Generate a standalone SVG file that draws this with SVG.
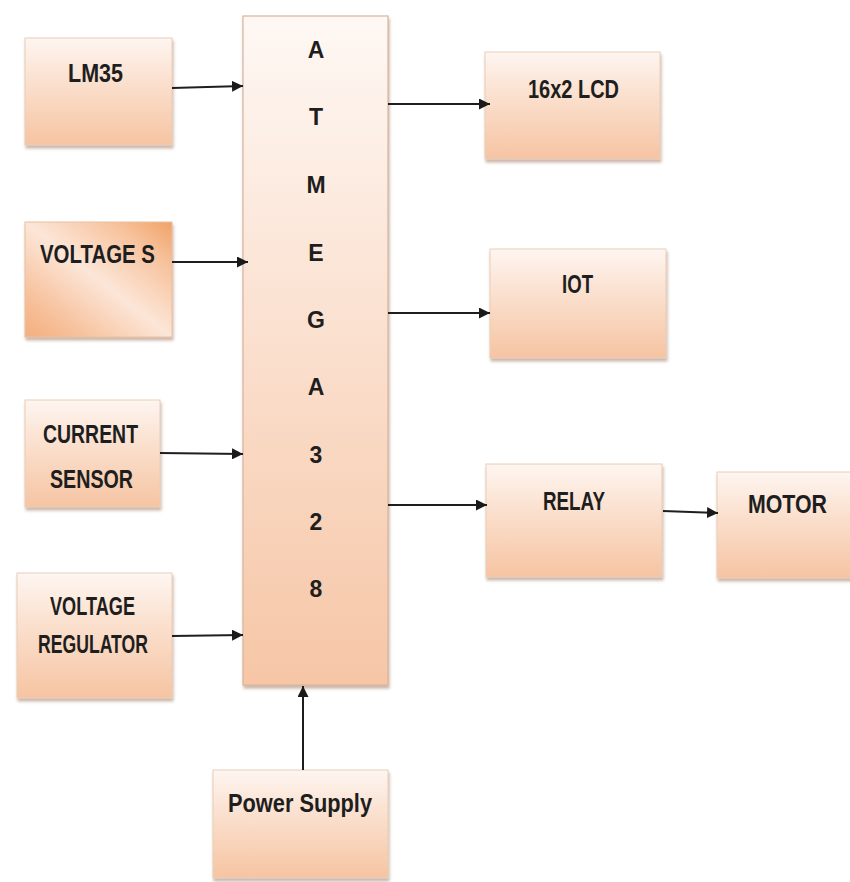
<svg xmlns="http://www.w3.org/2000/svg" width="850" height="882" viewBox="0 0 850 882">
<defs>
<linearGradient id="gBox" x1="0" y1="0" x2="0" y2="1">
<stop offset="0" stop-color="#fef6f1"/>
<stop offset="0.35" stop-color="#fbe3d3"/>
<stop offset="1" stop-color="#f6c4a2"/>
</linearGradient>
<linearGradient id="gMain" x1="0" y1="0" x2="0" y2="1">
<stop offset="0" stop-color="#fef8f4"/>
<stop offset="0.4" stop-color="#fbe4d5"/>
<stop offset="1" stop-color="#f6c6a6"/>
</linearGradient>
<linearGradient id="gVS" x1="1" y1="0" x2="0" y2="1">
<stop offset="0" stop-color="#f0a266"/>
<stop offset="0.2" stop-color="#f7c29c"/>
<stop offset="0.5" stop-color="#fce6d8"/>
<stop offset="0.8" stop-color="#f7c29d"/>
<stop offset="1" stop-color="#f3ae7e"/>
</linearGradient>
<filter id="sh" x="-10%" y="-10%" width="125%" height="130%">
<feDropShadow dx="1" dy="3" stdDeviation="1.5" flood-color="#8c5a3c" flood-opacity="0.45"/>
</filter>
<marker id="ah" viewBox="0 0 10 10" refX="10" refY="5" markerWidth="11" markerHeight="11" markerUnits="userSpaceOnUse" orient="auto">
<path d="M0,0 L10,5 L0,10 Z" fill="#1a1a1a"/>
</marker>
</defs>
<style>
.box{fill:url(#gBox);stroke:#e9cdb9;stroke-width:1;filter:url(#sh)}
.main{fill:url(#gMain);stroke:#d9b49c;stroke-width:1.2;filter:url(#sh)}
.t{font-family:"Liberation Sans",Arial,sans-serif;font-weight:bold;font-size:25px;fill:#1e1e1e}
.l{font-family:"Liberation Sans",Arial,sans-serif;font-weight:bold;font-size:23px;fill:#1e1e1e;text-anchor:middle}
.c{stroke:#1e1e1e;stroke-width:2;fill:none;marker-end:url(#ah)}
</style>
<rect width="850" height="882" fill="#ffffff"/>

<g id="atmega">
<rect class="main" x="243" y="16" width="145" height="669"/>
<text class="l" x="316" y="58">A</text>
<text class="l" x="316" y="125">T</text>
<text class="l" x="316" y="193">M</text>
<text class="l" x="316" y="261">E</text>
<text class="l" x="316" y="328">G</text>
<text class="l" x="316" y="395">A</text>
<text class="l" x="316" y="463">3</text>
<text class="l" x="316" y="530">2</text>
<text class="l" x="316" y="597">8</text>
</g>

<g id="lm35">
<rect class="box" x="25" y="38" width="147" height="107"/>
<text class="t" x="68" y="82" textLength="55" lengthAdjust="spacingAndGlyphs">LM35</text>
</g>

<g id="voltage-s">
<rect x="25" y="222" width="147" height="115" fill="url(#gVS)" stroke="#e9c0a0" stroke-width="1" filter="url(#sh)"/>
<text class="t" x="40" y="263" textLength="115" lengthAdjust="spacingAndGlyphs">VOLTAGE S</text>
</g>

<g id="current-sensor">
<rect class="box" x="25" y="400" width="135" height="107"/>
<text class="t" x="43" y="443" textLength="95" lengthAdjust="spacingAndGlyphs">CURRENT</text>
<text class="t" x="50" y="488" textLength="83" lengthAdjust="spacingAndGlyphs">SENSOR</text>
</g>

<g id="voltage-regulator">
<rect class="box" x="17" y="573" width="155" height="125"/>
<text class="t" x="50" y="615" font-size="23" textLength="85" lengthAdjust="spacingAndGlyphs">VOLTAGE</text>
<text class="t" x="38" y="653" font-size="23" textLength="110" lengthAdjust="spacingAndGlyphs">REGULATOR</text>
</g>

<g id="power-supply">
<rect class="box" x="213" y="770" width="175" height="108"/>
<text class="t" x="228" y="812" textLength="144" lengthAdjust="spacingAndGlyphs">Power Supply</text>
</g>

<g id="lcd">
<rect class="box" x="485" y="52" width="175" height="107"/>
<text class="t" x="528" y="98" textLength="91" lengthAdjust="spacingAndGlyphs">16x2 LCD</text>
</g>

<g id="iot">
<rect class="box" x="490" y="249" width="176" height="109"/>
<text class="t" x="562" y="293" textLength="31" lengthAdjust="spacingAndGlyphs">IOT</text>
</g>

<g id="relay">
<rect class="box" x="486" y="464" width="176" height="113"/>
<text class="t" x="543" y="510" textLength="62" lengthAdjust="spacingAndGlyphs">RELAY</text>
</g>

<g id="motor">
<rect class="box" x="717" y="472" width="140" height="106"/>
<text class="t" x="748" y="513" textLength="79" lengthAdjust="spacingAndGlyphs">MOTOR</text>
</g>

<g id="connectors">
<line class="c" x1="172" y1="88" x2="243" y2="86"/>
<line class="c" x1="172" y1="262" x2="248" y2="262"/>
<line class="c" x1="160" y1="453" x2="243" y2="454"/>
<line class="c" x1="172" y1="636" x2="243" y2="635"/>
<line class="c" x1="303" y1="770" x2="303" y2="686"/>
<line class="c" x1="388" y1="104" x2="490" y2="104"/>
<line class="c" x1="388" y1="313" x2="490" y2="313"/>
<line class="c" x1="388" y1="505" x2="487" y2="505"/>
<line class="c" x1="663" y1="511" x2="718" y2="513"/>
</g>
</svg>
